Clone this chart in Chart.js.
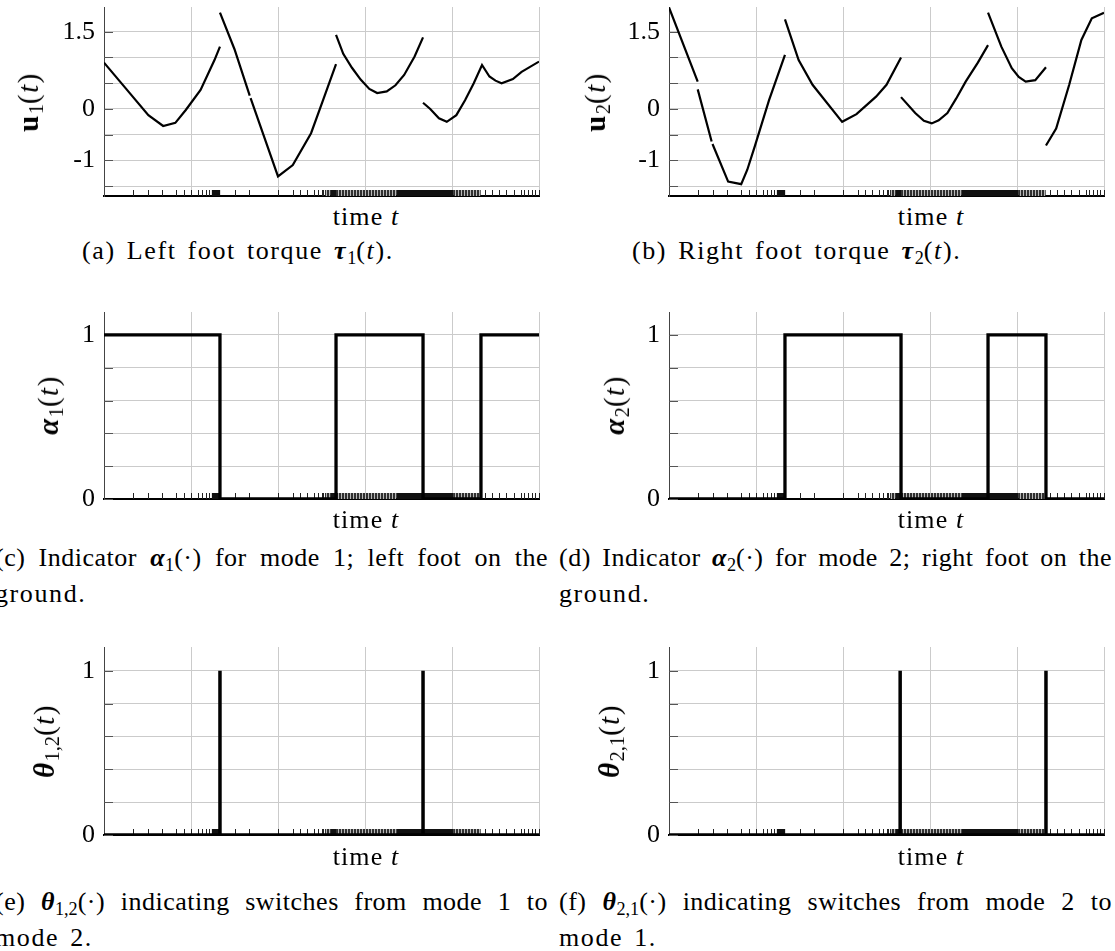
<!doctype html>
<html lang="en">
<head>
<meta charset="utf-8">
<title>Foot torques and mode indicators</title>
<script src="https://cdn.jsdelivr.net/npm/chart.js@4.4.1/dist/chart.umd.min.js"></script>
<style>
  html, body { margin: 0; padding: 0; background: #fff; }
  #page { position: relative; width: 1115px; height: 951px; overflow: hidden;
          font-family: "Liberation Serif", serif; color: #000; }
  #page canvas { position: absolute; }
  .txt  { position: absolute; white-space: nowrap; font-size: 26px; line-height: 32px; letter-spacing: 1.6px; word-spacing: 3px; }
  .just { width: 553px; text-align: justify; text-align-last: justify; letter-spacing: 0.5px; word-spacing: 1px; }
  .ylab { position: absolute; white-space: nowrap; font-size: 29px; line-height: 30px; letter-spacing: 1.5px;
          transform: translate(-50%, -50%) rotate(-90deg); }
  .xlab { position: absolute; white-space: nowrap; font-size: 26px; line-height: 30px; letter-spacing: 1.1px;
          transform: translate(-50%, -50%); }
  sub { font-size: 70%; vertical-align: -0.25em; line-height: 0; letter-spacing: 0; }
</style>
</head>
<body>
<div id="page">
  <canvas id="ca" width="545" height="200" style="left:0px;top:0px"></canvas>
  <canvas id="cb" width="545" height="200" style="left:565px;top:0px"></canvas>
  <canvas id="cc" width="545" height="214" style="left:0px;top:300px"></canvas>
  <canvas id="cd" width="545" height="214" style="left:565px;top:300px"></canvas>
  <canvas id="ce" width="545" height="215" style="left:0px;top:635px"></canvas>
  <canvas id="cf" width="545" height="215" style="left:565px;top:635px"></canvas>

  <div class="ylab" style="left:28px;top:102px"><b>u</b><sub>1</sub>(<i>t</i>)</div>
  <div class="ylab" style="left:595px;top:102px"><b>u</b><sub>2</sub>(<i>t</i>)</div>
  <div class="ylab" style="left:48px;top:405px"><b><i>α</i></b><sub>1</sub>(<i>t</i>)</div>
  <div class="ylab" style="left:614px;top:405px"><b><i>α</i></b><sub>2</sub>(<i>t</i>)</div>
  <div class="ylab" style="left:44px;top:741px"><b><i>θ</i></b><sub>1,2</sub>(<i>t</i>)</div>
  <div class="ylab" style="left:609px;top:741px"><b><i>θ</i></b><sub>2,1</sub>(<i>t</i>)</div>

  <div class="xlab" style="left:366px;top:217px">time <i>t</i></div>
  <div class="xlab" style="left:931px;top:217px">time <i>t</i></div>
  <div class="xlab" style="left:366px;top:520px">time <i>t</i></div>
  <div class="xlab" style="left:931px;top:520px">time <i>t</i></div>
  <div class="xlab" style="left:366px;top:857px">time <i>t</i></div>
  <div class="xlab" style="left:931px;top:857px">time <i>t</i></div>

  <div class="txt" style="left:82px;top:235px">(a) Left foot torque <b><i>τ</i></b><sub>1</sub>(<i>t</i>).</div>
  <div class="txt" style="left:632px;top:235px">(b) Right foot torque <b><i>τ</i></b><sub>2</sub>(<i>t</i>).</div>

  <div class="txt just" style="left:-5px;top:542px">(c) Indicator <b><i>α</i></b><sub>1</sub>(·) for mode 1; left foot on the</div>
  <div class="txt" style="left:-5px;top:578px">ground.</div>
  <div class="txt just" style="left:559px;top:542px">(d) Indicator <b><i>α</i></b><sub>2</sub>(·) for mode 2; right foot on the</div>
  <div class="txt" style="left:559px;top:578px">ground.</div>

  <div class="txt just" style="left:-5px;top:886px">(e) <b><i>θ</i></b><sub>1,2</sub>(·) indicating switches from mode 1 to</div>
  <div class="txt" style="left:-5px;top:922px">mode 2.</div>
  <div class="txt just" style="left:559px;top:886px">(f) <b><i>θ</i></b><sub>2,1</sub>(·) indicating switches from mode 2 to</div>
  <div class="txt" style="left:559px;top:922px">mode 1.</div>
</div>

<script>
// time axis grid and y ticks
const tGrid = [0, 1, 2, 3, 4, 5];
const uTicks = [-1.5, -1, -0.5, 0, 0.5, 1, 1.5];
const uLabels = [1.5, 0, -1];
const indTicks = [0, 0.2, 0.4, 0.6, 0.8, 1];
const indLabels = [0, 1];

// time mesh (rug of nodes along the bottom axis)
const meshTimes = [0.333, 0.5, 0.667, 0.833, 0.917, 1.0, 1.083, 1.125, 1.167, 1.208,
                   1.5, 1.667, 2.0, 2.167, 2.25, 2.333, 2.417, 2.458, 2.5, 2.521,
                   4.375, 4.458, 4.542, 4.625, 4.708, 4.792, 4.833, 4.875, 4.917, 4.958, 5.0];
const meshDense = [[1.24, 1.335], [2.6, 2.667], [3.36, 4.02]];
const meshHatched = [[2.54, 2.6], [2.667, 3.36], [4.02, 4.33]];

// left foot torque u1 (null = break in the curve)
const u1Times = [0, 0.25, 0.51, 0.68, 0.82, 0.94, 1.11, 1.27, 1.333, 1.333,
                 1.333, 1.5, 1.675, 1.68, 1.685, 2.0, 2.17, 2.38, 2.52, 2.667, 2.667,
                 2.667, 2.75, 2.85, 2.95, 3.05, 3.14, 3.25, 3.35, 3.45, 3.57, 3.667, 3.667,
                 3.667, 3.75, 3.85, 3.94, 4.05, 4.15, 4.25, 4.345, 4.43, 4.5, 4.57, 4.7, 4.8, 5.0];
const u1Vals  = [0.90, 0.40, -0.12, -0.33, -0.27, -0.02, 0.37, 0.95, 1.21, null,
                 1.87, 1.16, 0.26, null, 0.21, -1.31, -1.09, -0.47, 0.18, 0.87, null,
                 1.44, 1.07, 0.80, 0.57, 0.39, 0.31, 0.34, 0.46, 0.66, 1.02, 1.39, null,
                 0.12, 0.0, -0.18, -0.25, -0.12, 0.17, 0.50, 0.855, 0.63, 0.55, 0.50, 0.58, 0.72, 0.92];

// right foot torque u2
const u2Times = [0, 0.33, 0.33, 0.33, 0.49, 0.495, 0.50, 0.68, 0.83, 0.90, 0.985, 1.15, 1.333, 1.333,
                 1.333, 1.49, 1.65, 1.99, 2.155, 2.38, 2.5, 2.667, 2.667,
                 2.667, 2.83, 2.93, 3.02, 3.1, 3.2, 3.3, 3.41, 3.55, 3.667, 3.667,
                 3.667, 3.82, 3.94, 4.02, 4.1, 4.21, 4.333, 4.333,
                 4.333, 4.45, 4.6, 4.74, 4.86, 5.0];
const u2Vals  = [1.97, 0.53, null, 0.38, -0.63, null, -0.68, -1.41, -1.46, -1.18, -0.73, 0.17, 1.05, null,
                 1.74, 0.95, 0.47, -0.25, -0.10, 0.24, 0.47, 1.00, null,
                 0.23, -0.08, -0.23, -0.28, -0.22, -0.08, 0.20, 0.53, 0.90, 1.24, null,
                 1.87, 1.21, 0.79, 0.62, 0.53, 0.56, 0.81, null,
                 -0.71, -0.38, 0.47, 1.34, 1.76, 1.87];

// mode indicators (stepped) and switch indicators (spikes)
const alpha1Times = [0, 1.333, 2.667, 3.667, 4.333, 5];
const alpha1Vals  = [1, 0, 1, 0, 1, 1];
const alpha2Times = [0, 1.333, 2.667, 3.667, 4.333, 5];
const alpha2Vals  = [0, 1, 0, 1, 0, 0];
const theta12Times = [0, 1.333, 1.333, 1.333, 3.667, 3.667, 3.667, 5];
const theta12Vals  = [0, 0, 1, 0, 0, 1, 0, 0];
const theta21Times = [0, 2.657, 2.657, 2.657, 4.333, 4.333, 4.333, 5];
const theta21Vals  = [0, 0, 1, 0, 0, 1, 0, 0];

function pts(times, vals) {
  return times.map((t, i) => ({ x: t, y: vals[i] }));
}

// fine vertical hatch for the crowded parts of the mesh rug
function hatch(ctx) {
  const c = document.createElement('canvas');
  c.width = 3; c.height = 6;
  const g = c.getContext('2d');
  g.fillStyle = '#b8b8b8'; g.fillRect(0, 0, 3, 6);
  g.fillStyle = '#303030'; g.fillRect(0, 0, 2, 6);
  return ctx.createPattern(c, 'repeat');
}

const meshPlugin = {
  id: 'mesh',
  beforeDatasetsDraw(chart) {
    const ctx = chart.ctx, a = chart.chartArea, x = chart.scales.x, y = chart.scales.y;
    ctx.save();
    // short inward ticks on the left axis
    ctx.strokeStyle = '#555';
    ctx.lineWidth = 1;
    y.ticks.forEach(tk => {
      const py = Math.round(y.getPixelForValue(tk.value)) + 0.5;
      ctx.beginPath(); ctx.moveTo(a.left, py); ctx.lineTo(a.left + 9, py); ctx.stroke();
    });
    // rug of mesh nodes
    ctx.fillStyle = hatch(ctx);
    meshHatched.forEach(b => {
      const x0 = x.getPixelForValue(b[0]), x1 = x.getPixelForValue(b[1]);
      ctx.fillRect(x0, a.bottom - 6, x1 - x0, 6);
    });
    ctx.fillStyle = '#111';
    meshDense.forEach(b => {
      const x0 = x.getPixelForValue(b[0]), x1 = x.getPixelForValue(b[1]);
      ctx.fillRect(x0, a.bottom - 6, x1 - x0, 6);
    });
    ctx.strokeStyle = '#222';
    meshTimes.forEach(t => {
      const px = Math.round(x.getPixelForValue(t)) + 0.5;
      ctx.beginPath(); ctx.moveTo(px, a.bottom); ctx.lineTo(px, a.bottom - 6); ctx.stroke();
    });
    ctx.restore();
  }
};

function noPad(s) {
  s.paddingTop = 0; s.paddingBottom = 0; s.paddingLeft = 0; s.paddingRight = 0;
}

function panel(id, data, stepped, yMin, yMax, yTicks, yLabels, lineW, pad) {
  return new Chart(document.getElementById(id), {
    type: 'line',
    data: { datasets: [{ data: data, stepped: stepped, borderColor: '#000', borderWidth: lineW,
                         pointRadius: 0, tension: 0, spanGaps: false }] },
    options: {
      responsive: false,
      animation: false,
      devicePixelRatio: 1,
      layout: { padding: { top: pad[0], right: 6, bottom: pad[1], left: 0 } },
      plugins: { legend: { display: false }, tooltip: { enabled: false } },
      scales: {
        x: {
          type: 'linear', min: 0, max: 5,
          afterBuildTicks: s => { s.ticks = tGrid.map(v => ({ value: v })); },
          afterFit: s => { s.height = 0; noPad(s); },
          ticks: { display: false, autoSkip: false },
          grid: { color: '#cbcbcb', drawTicks: false },
          border: { color: '#000', width: 2 }
        },
        y: {
          type: 'linear', min: yMin, max: yMax,
          afterBuildTicks: s => { s.ticks = yTicks.map(v => ({ value: v })); },
          afterFit: s => { s.width = 104; noPad(s); },
          ticks: {
            autoSkip: false,
            padding: 9, color: '#000',
            font: { family: '"Liberation Serif", serif', size: 26 },
            callback: v => yLabels.includes(v) ? String(v) : ''
          },
          grid: { color: '#cbcbcb', drawTicks: false },
          border: { color: '#444', width: 1 }
        }
      }
    },
    plugins: [meshPlugin]
  });
}

panel('ca', pts(u1Times, u1Vals), false, -1.69, 1.98, uTicks, uLabels, 2.2, [7, 4]);
panel('cb', pts(u2Times, u2Vals), false, -1.69, 1.98, uTicks, uLabels, 2.2, [7, 4]);
panel('cc', pts(alpha1Times, alpha1Vals), true, 0, 1.14, indTicks, indLabels, 3.3, [12, 15]);
panel('cd', pts(alpha2Times, alpha2Vals), true, 0, 1.14, indTicks, indLabels, 3.3, [12, 15]);
panel('ce', pts(theta12Times, theta12Vals), false, 0, 1.145, indTicks, indLabels, 3.5, [12, 15]);
panel('cf', pts(theta21Times, theta21Vals), false, 0, 1.145, indTicks, indLabels, 3.5, [12, 15]);
</script>
</body>
</html>
